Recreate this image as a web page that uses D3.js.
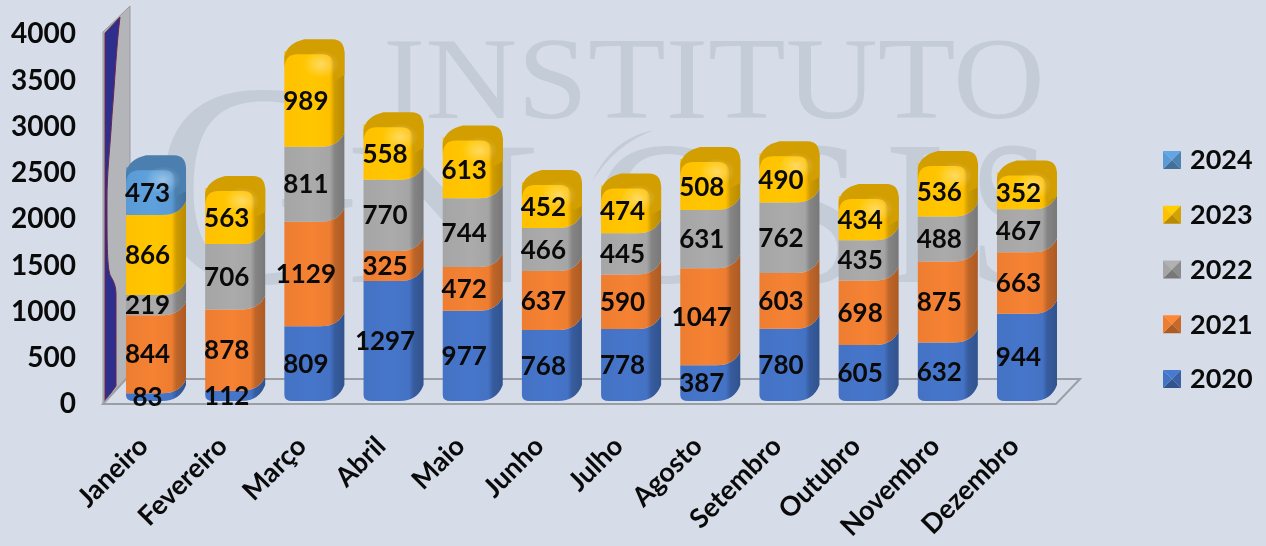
<!DOCTYPE html>
<html>
<head>
<meta charset="utf-8">
<script src="https://cdn.jsdelivr.net/npm/d3@7"></script>
<style>
html, body { margin: 0; padding: 0; background: #d6dde8; overflow: hidden; }
svg { filter: blur(0.45px); }
text { font-family: Lato, "Noto Sans", sans-serif; font-weight: 700; fill: #0a0a0a; }
</style>
</head>
<body>
<div id="chart"></div>
<script>
// valores
const meses = ['Janeiro', 'Fevereiro', 'Março', 'Abril', 'Maio', 'Junho', 'Julho', 'Agosto', 'Setembro', 'Outubro', 'Novembro', 'Dezembro'];
const anos = ['2020', '2021', '2022', '2023', '2024'];
const v2020 = [83, 112, 809, 1297, 977, 768, 778, 387, 780, 605, 632, 944];
const v2021 = [844, 878, 1129, 325, 472, 637, 590, 1047, 603, 698, 875, 663];
const v2022 = [219, 706, 811, 770, 744, 466, 445, 631, 762, 435, 488, 467];
const v2023 = [866, 563, 989, 558, 613, 452, 474, 508, 490, 434, 536, 352];
const v2024 = [473, 0, 0, 0, 0, 0, 0, 0, 0, 0, 0, 0];
const ticksY = [0, 500, 1000, 1500, 2000, 2500, 3000, 3500, 4000];
const cores = ['#4472c4', '#ed7d31', '#a5a5a5', '#ffc000', '#5b9bd5'];

const series = [v2020, v2021, v2022, v2023, v2024];
const width = 1266, height = 546;
const depthX = 10, depthY = 14;

const svg = d3.select('#chart').append('svg')
    .attr('width', width)
    .attr('height', height)
    .style('display', 'block');

svg.append('rect').attr('width', width).attr('height', height).attr('fill', '#d6dde8');

const x = d3.scaleBand().domain(meses).range([126, 1057]).paddingInner(0.242);
const y = d3.scaleLinear().domain([0, 4000]).range([401, 31]);

const defs = svg.append('defs');
cores.forEach((c, i) => {
    const g = defs.append('linearGradient').attr('id', 'cor' + i);
    const base = d3.color(c);
    g.append('stop').attr('offset', '0%').attr('stop-color', base);
    g.append('stop').attr('offset', '45%').attr('stop-color', base.brighter(0.1));
    g.append('stop').attr('offset', '76%').attr('stop-color', base);
    g.append('stop').attr('offset', '84%').attr('stop-color', base.darker(0.6));
    g.append('stop').attr('offset', '100%').attr('stop-color', base.darker(0.9));
});
const brilho = defs.append('radialGradient').attr('id', 'brilho');
brilho.append('stop').attr('offset', '0%').attr('stop-color', '#fff').attr('stop-opacity', 0.38);
brilho.append('stop').attr('offset', '100%').attr('stop-color', '#fff').attr('stop-opacity', 0);

// marca de agua
const marca = svg.append('g');
const textoMarca = (tx, ty, tam, txt, largura) => {
    const t = marca.append('text').attr('x', tx).attr('y', ty)
        .style('font-family', '"Liberation Serif", serif').style('font-weight', 400)
        .style('fill', '#c3ccd7').style('font-size', tam + 'px').text(txt);
    if (largura) t.attr('textLength', largura).attr('lengthAdjust', 'spacingAndGlyphs');
};
textoMarca(383, 118, 116, 'INSTITUTO', 662);
textoMarca(152, 282, 290, 'G');
textoMarca(345, 282, 205, 'N', 195);
textoMarca(592, 282, 205, 'O', 152);
textoMarca(762, 282, 205, 'S', 102);
textoMarca(884, 282, 205, 'I', 62);
textoMarca(970, 282, 205, 'S', 80);
marca.append('path')
    .attr('d', 'M654 130C625 136 606 152 592 182C608 156 628 140 654 130Z')
    .attr('fill', '#c3ccd7');

// paredes e chao do grafico 3D
const base0 = y(0) + 3;
svg.append('path')
    .attr('d', `M103 ${base0}L103 32L130 6L130 379L126 379Z`)
    .attr('fill', '#b4b5b8').attr('stroke', '#9a9b9e').attr('stroke-width', 1);
svg.append('path')
    .attr('d', 'M105 401L105 33L120 17C116 50 115 80 112 115C110 150 107 170 107 200C107 240 107 265 110 275C114 282 116 286 116 295L116 386Z')
    .attr('fill', '#2e2f8c').attr('stroke', '#6b2550').attr('stroke-width', 1);
svg.append('path')
    .attr('d', `M103 ${base0}L126 379L1080 379L1056 ${base0}Z`)
    .attr('fill', '#d6dde8').attr('stroke', '#9b9fa5').attr('stroke-width', 2);

// colunas empilhadas
meses.forEach((m, j) => {
    const g = svg.append('g');
    const x0 = x(m), x1 = x0 + x.bandwidth();
    let acum = 0;
    const ultima = d3.max(series.map((s, i) => s[j] > 0 ? i : -1));
    series.forEach((s, i) => {
        if (!s[j]) return;
        const yb = y(acum), yt = y(acum + s[j]);
        acum += s[j];
        const xm = x1 - depthX - 8;
        const baixo = i === 0
            ? `L${x1} ${yb - depthY - 2}Q${x1 - 6} ${yb} ${xm - 6} ${yb}L${x0 + 8} ${yb}Q${x0} ${yb} ${x0} ${yb - 6}`
            : `L${x1} ${yb - depthY}Q${x1 - 6} ${yb} ${xm - 6} ${yb}L${x0} ${yb}`;
        const cima = i === ultima
            ? `L${x0} ${yt}L${x0} ${yt - 4}L${x1} ${yt - 4}`
            : `L${x0} ${yt}L${xm - 6} ${yt}Q${x1 - 6} ${yt} ${x1} ${yt - depthY}`;
        g.append('path')
            .attr('d', `M${x1} ${yt - depthY}` + baixo + cima + 'Z')
            .attr('fill', `url(#cor${i})`);
        if (i === ultima) {
            // tampa arredondada
            const escura = d3.color(cores[i]).darker(0.55);
            g.append('path')
                .attr('fill-rule', 'evenodd')
                .attr('d', `M${x0} ${yt + 14}L${x0} ${yt + 1}Q${x0 + 3} ${yt - 12} ${x0 + 20} ${yt - depthY - 2}L${x1 - 12} ${yt - depthY - 2}Q${x1} ${yt - depthY - 2} ${x1} ${yt - 2}L${x1} ${yt + 20}L${x1 - 11} ${yt + 26}L${x1 - 11} ${yt + 11}Q${x1 - 11} ${yt - 1} ${x1 - 22} ${yt - 1}L${x0 + 13} ${yt - 1}Q${x0} ${yt - 1} ${x0} ${yt + 14}Z`)
                .attr('fill', escura);
            g.append('ellipse')
                .attr('cx', x1 - 23).attr('cy', yt + 9)
                .attr('rx', 18).attr('ry', 14)
                .attr('fill', 'url(#brilho)');
        }
    });
});

// rotulos de valor
meses.forEach((m, j) => {
    let acum = 0;
    series.forEach(s => {
        if (!s[j]) return;
        svg.append('text')
            .attr('x', x(m) + 21.5)
            .attr('y', y(acum + s[j] / 2))
            .attr('dy', '0.35em')
            .attr('text-anchor', 'middle')
            .style('font-size', '26px')
            .text(s[j]);
        acum += s[j];
    });
});

// eixos
const eixoY = svg.append('g').attr('transform', 'translate(76,3)')
    .call(d3.axisLeft(y).tickValues(ticksY).tickSize(0).tickPadding(0).tickFormat(d3.format('d')));
eixoY.select('.domain').remove();
eixoY.selectAll('text').style('font-size', '28px').style('font-family', 'Lato');

const eixoX = svg.append('g').attr('transform', 'translate(0,432)')
    .call(d3.axisBottom(x).tickSize(0).tickPadding(0));
eixoX.select('.domain').remove();
eixoX.selectAll('text')
    .attr('text-anchor', 'end')
    .attr('y', 0)
    .attr('transform', 'translate(-13,9) rotate(-45)')
    .attr('dy', '0.35em')
    .style('font-size', '27px')
    .style('font-family', 'Lato');

// legenda
const legY = d3.scalePoint().domain(anos.slice().reverse()).range([160, 379]);
anos.forEach((a, i) => {
    const g = svg.append('g').attr('transform', `translate(1163,${legY(a)})`);
    const c = d3.color(cores[i]);
    const s = 9;
    [[`M0 ${-s}L18 ${-s}L9 0Z`, c.brighter(0.2)],
     [`M18 ${-s}L18 ${s}L9 0Z`, c.darker(0.5)],
     [`M0 ${s}L18 ${s}L9 0Z`, c.darker(0.9)],
     [`M0 ${-s}L0 ${s}L9 0Z`, c]].forEach(([d, f]) => g.append('path').attr('d', d).attr('fill', f));
    g.append('text').attr('x', 27).attr('dy', '0.35em').style('font-size', '27px').text(a);
});
</script>
</body>
</html>
